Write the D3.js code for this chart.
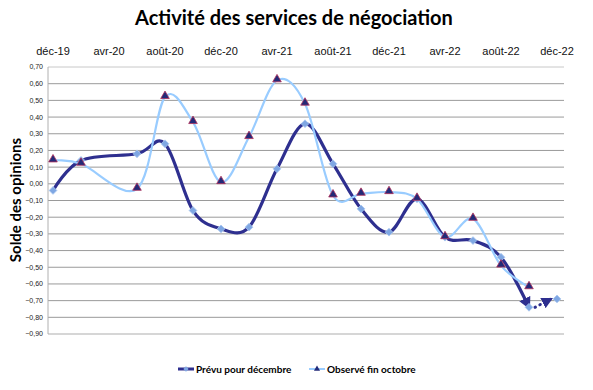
<!DOCTYPE html>
<html>
<head>
<meta charset="utf-8">
<script src="https://cdn.jsdelivr.net/npm/d3@7"></script>
<style>
  body { margin: 0; background: white; }
  svg { font-family: "Liberation Sans", Arial, sans-serif; }
  .title { font-family: Lato, "Open Sans", sans-serif; font-weight: bold; }
  .ylabel { font-family: Lato, "Open Sans", sans-serif; font-weight: bold; }
  .legend text { font-family: Lato, "Open Sans", sans-serif; font-weight: bold; }
</style>
</head>
<body>
<div class="plot"></div>
<script>
// Data: months counted from déc-19 (0) to déc-22 (36)
var months = [0, 2, 6, 8, 10, 12, 14, 16, 18, 20, 22, 24, 26, 28, 30, 32, 34, 36];
var prevu = [-0.04, 0.14, 0.18, 0.24, -0.16, -0.27, -0.26, 0.09, 0.36, 0.12, -0.15, -0.29, -0.09, -0.32, -0.34, -0.44, -0.74, -0.69];
var observe = [0.14, 0.12, -0.03, 0.52, 0.37, 0.01, 0.28, 0.62, 0.48, -0.07, -0.06, -0.05, -0.09, -0.32, -0.21, -0.49, -0.62];
var tickMonths = [0, 4, 8, 12, 16, 20, 24, 28, 32, 36];
var tickLabels = ["déc-19", "avr-20", "août-20", "déc-20", "avr-21", "août-21", "déc-21", "avr-22", "août-22", "déc-22"];
var yTicks = [0.7, 0.6, 0.5, 0.4, 0.3, 0.2, 0.1, 0, -0.1, -0.2, -0.3, -0.4, -0.5, -0.6, -0.7, -0.8, -0.9];

var outerWidth = 593, outerHeight = 390;
var plot = {left: 48, right: 564, top: 67, bottom: 334};

var darkColor = "#2e2f8f",
    lightColor = "#99ccff";

var svg = d3.select(".plot").append("svg")
    .attr("width", outerWidth)
    .attr("height", outerHeight);

svg.append("rect")
    .attr("width", "100%")
    .attr("height", "100%")
    .attr("fill", "white");

// Scales
var xScale = d3.scaleLinear().domain([0, 36]).range([53, 557]);
var yScale = d3.scaleLinear().domain([-0.9, 0.7]).range([plot.bottom, plot.top]);

// Title
svg.append("text")
    .attr("class", "title")
    .attr("x", 294)
    .attr("y", 25)
    .attr("text-anchor", "middle")
    .style("font-size", "20px")
    .text("Activité des services de négociation");

// Horizontal grid lines
svg.append("g").selectAll("line")
    .data(yTicks)
    .enter().append("line")
    .attr("x1", plot.left)
    .attr("x2", plot.right)
    .attr("y1", d => yScale(d))
    .attr("y2", d => yScale(d))
    .attr("stroke", (d, i) => (i == 0 || i == yTicks.length - 1) ? "#c8c8c8" : "#9a9a9a")
    .attr("stroke-width", (d, i) => (i == yTicks.length - 1) ? 1.5 : 1);

// Y axis line
svg.append("line")
    .attr("x1", plot.left).attr("x2", plot.left)
    .attr("y1", plot.top).attr("y2", plot.bottom)
    .attr("stroke", "#b0b0b0");

// Y tick labels
var fmt = d3.format(".2f");
svg.append("g").selectAll("text")
    .data(yTicks)
    .enter().append("text")
    .attr("x", 43)
    .attr("y", d => yScale(d))
    .attr("dy", "0.35em")
    .attr("text-anchor", "end")
    .style("font-size", "7px")
    .attr("fill", "#222")
    .text(d => fmt(d).replace(".", ",").replace("-0,00", "0,00"));

// Top x labels
svg.append("g").selectAll("text")
    .data(tickMonths)
    .enter().append("text")
    .attr("x", d => xScale(d))
    .attr("y", 55)
    .attr("text-anchor", "middle")
    .style("font-size", "11px")
    .attr("fill", "#111")
    .text((d, i) => tickLabels[i]);

// Y axis title
svg.append("text")
    .attr("class", "ylabel")
    .attr("transform", "translate(21,200) rotate(-90)")
    .attr("text-anchor", "middle")
    .style("font-size", "15px")
    .text("Solde des opinions");

// Arrow markers
var defs = svg.append("defs");
defs.append("marker")
    .attr("id", "arrow")
    .attr("viewBox", "0 0 10 10")
    .attr("refX", 8).attr("refY", 5)
    .attr("markerWidth", 3.8).attr("markerHeight", 3.8)
    .attr("orient", "auto")
    .append("path")
    .attr("d", "M0,0 L10,5 L0,10 Z")
    .attr("fill", darkColor);

var line = d3.line()
    .x(d => xScale(d[0]))
    .y(d => yScale(d[1]))
    .curve(d3.curveCardinal.tension(0));

var prevuPts = months.map((m, i) => [m, prevu[i]]);
var observePts = observe.map((v, i) => [months[i], v]);

// Prévu: solid up to oct-22, then dotted to déc-22
svg.append("path")
    .datum(prevuPts.slice(0, prevuPts.length - 1))
    .attr("d", line)
    .attr("fill", "none")
    .attr("stroke", darkColor)
    .attr("stroke-width", 3.2)
    .attr("marker-end", "url(#arrow)");

svg.append("path")
    .datum(prevuPts.slice(prevuPts.length - 2))
    .attr("d", d3.line().x(d => xScale(d[0]) + (d[0] == 36 ? -6 : 6)).y(d => yScale(d[1])))
    .attr("fill", "none")
    .attr("stroke", darkColor)
    .attr("stroke-width", 3)
    .attr("stroke-dasharray", "0.5,5")
    .attr("stroke-linecap", "round")
    .attr("marker-end", "url(#arrow)");

// Observé line
svg.append("path")
    .datum(observePts)
    .attr("d", line)
    .attr("fill", "none")
    .attr("stroke", lightColor)
    .attr("stroke-width", 2.2);

// Diamond markers (rotated squares)
var diamond = d3.symbol().type(d3.symbolSquare).size(30);
svg.append("g").selectAll("path")
    .data(prevuPts)
    .enter().append("path")
    .attr("d", diamond)
    .attr("transform", d => "translate(" + xScale(d[0]) + "," + yScale(d[1]) + ") rotate(45)")
    .attr("fill", "#7fa7e3")
    .attr("stroke", "#a9c6ef")
    .attr("stroke-width", 0.8);

// Triangle markers
var triangle = d3.symbol().type(d3.symbolTriangle).size(32);
svg.append("g").selectAll("path")
    .data(observePts)
    .enter().append("path")
    .attr("d", triangle)
    .attr("transform", d => "translate(" + xScale(d[0]) + "," + (yScale(d[1]) - 1) + ")")
    .attr("fill", "#232a78")
    .attr("stroke", "#b0305a")
    .attr("stroke-width", 0.8);

// Legend
var legend = svg.append("g").attr("class", "legend");
legend.append("line")
    .attr("x1", 178).attr("x2", 194).attr("y1", 369).attr("y2", 369)
    .attr("stroke", darkColor).attr("stroke-width", 3);
legend.append("path")
    .attr("d", d3.symbol().type(d3.symbolSquare).size(14))
    .attr("transform", "translate(186,369) rotate(45)")
    .attr("fill", "#7fa7e3");
legend.append("text")
    .attr("x", 196).attr("y", 372.5)
    .style("font-size", "10px")
    .text("Prévu pour décembre");

legend.append("line")
    .attr("x1", 309).attr("x2", 325).attr("y1", 369).attr("y2", 369)
    .attr("stroke", lightColor).attr("stroke-width", 2);
legend.append("path")
    .attr("d", d3.symbol().type(d3.symbolTriangle).size(16))
    .attr("transform", "translate(317,369)")
    .attr("fill", "#232a78");
legend.append("text")
    .attr("x", 327).attr("y", 372.5)
    .style("font-size", "10px")
    .text("Observé fin octobre");
</script>
</body>
</html>
